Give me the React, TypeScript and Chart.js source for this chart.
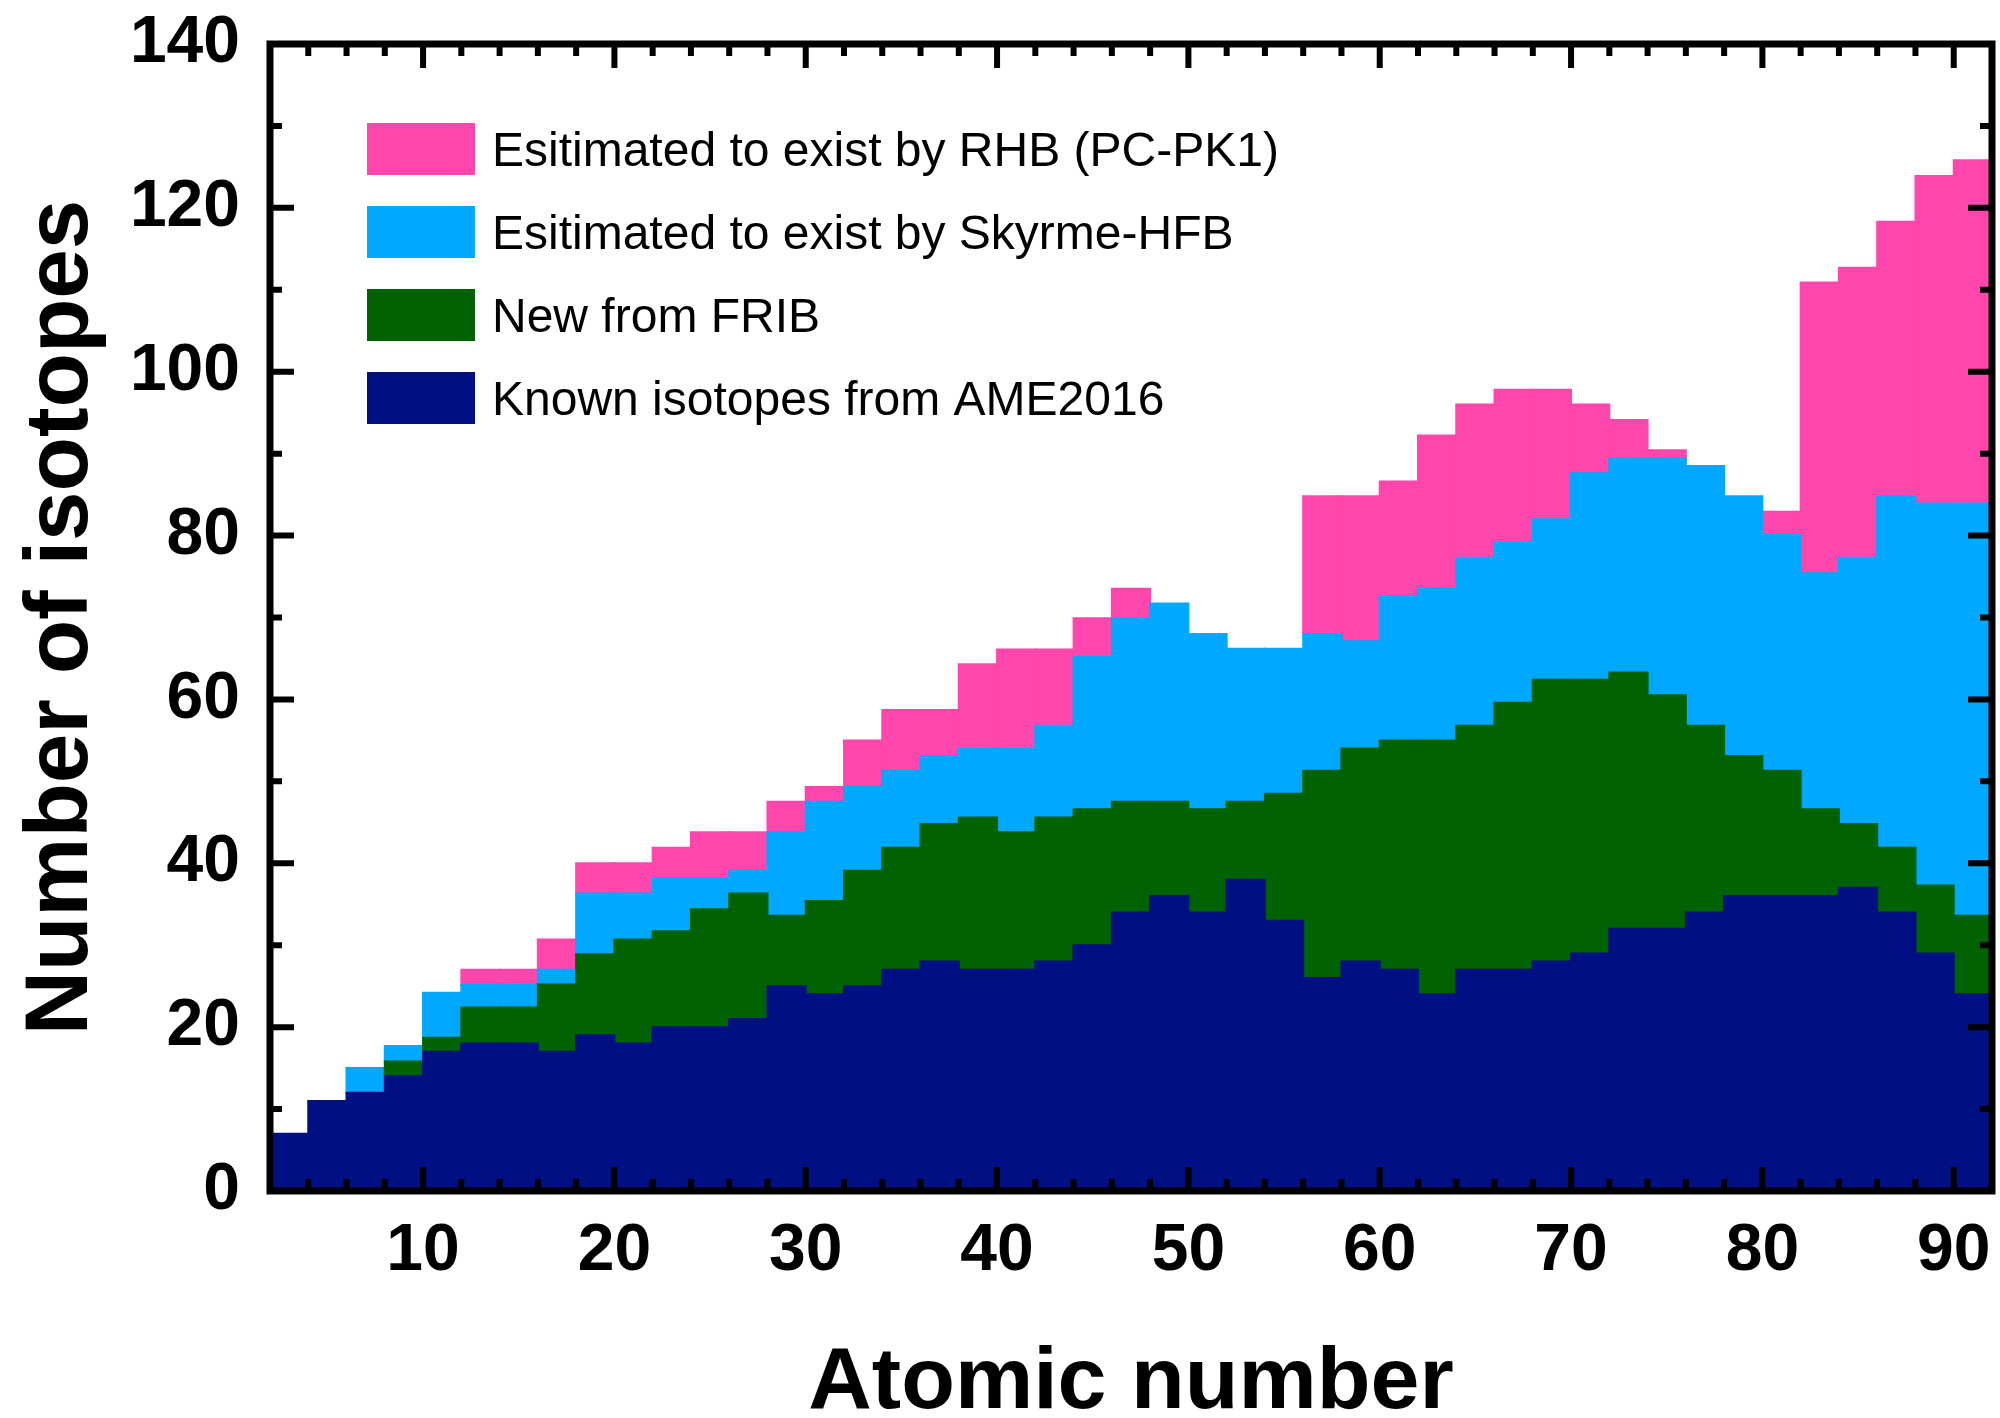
import React, { useEffect, useRef } from "react";
import { Chart, registerables } from "chart.js";

Chart.register(...registerables);

// Lower edge (atomic number Z) of each two-element bin
const binStarts = [2, 4, 6, 8, 10, 12, 14, 16, 18, 20, 22, 24, 26, 28, 30, 32, 34, 36, 38, 40, 42, 44, 46, 48, 50, 52, 54, 56, 58, 60, 62, 64, 66, 68, 70, 72, 74, 76, 78, 80, 82, 84, 86, 88, 90];

// Isotope counts per bin, one array per stacked layer (bottom to top)
const knownAME2016 = [7, 11, 12, 14, 17, 18, 18, 17, 19, 18, 20, 20, 21, 25, 24, 25, 27, 28, 27, 27, 28, 30, 34, 36, 34, 38, 33, 26, 28, 27, 24, 27, 27, 28, 29, 32, 32, 34, 36, 36, 36, 37, 34, 29, 24];
const newFromFRIB = [0, 0, 0, 1.8, 1.7, 4.4, 4.4, 8.2, 9.9, 12.7, 11.7, 14.4, 15.3, 8.6, 11.4, 14.1, 14.9, 16.8, 18.6, 16.8, 17.6, 16.6, 13.5, 11.5, 12.6, 9.5, 15.5, 25.3, 26, 28, 31, 29.8, 32.6, 34.4, 33.4, 31.3, 28.5, 22.8, 17.1, 15.3, 10.6, 7.8, 7.9, 8.3, 9.6];
const skyrmeHFB = [0, 0, 3, 1.9, 5.5, 2.8, 2.8, 1.8, 7.4, 5.6, 6.5, 3.8, 2.8, 10.2, 12.1, 10.2, 9.4, 8.3, 8.4, 10.2, 11.2, 18.6, 22.4, 24.2, 21.4, 18.7, 17.7, 16.7, 13.1, 17.6, 18.6, 20.5, 19.6, 19.6, 25.2, 26.1, 28.9, 31.7, 31.7, 28.8, 28.8, 32.5, 42.9, 46.6, 50.3];
const rhbPCPK1 = [0, 0, 0, 0, 0, 1.8, 1.8, 3.7, 3.7, 3.7, 3.7, 5.6, 4.7, 3.7, 1.8, 5.7, 7.4, 5.6, 10.3, 12.1, 9.3, 4.7, 3.6, 0, 0, 0, 0, 16.8, 17.7, 14, 18.6, 18.7, 18.6, 15.8, 8.4, 4.7, 1, 0, 0, 2.8, 35.5, 35.4, 33.5, 40, 41.9];

const seriesLabels = [
  "Known isotopes from AME2016",
  "New from FRIB",
  "Esitimated to exist by Skyrme-HFB",
  "Esitimated to exist by RHB (PC-PK1)",
];
const seriesColors = ["#000F82", "#006200", "#00A8FF", "#FF46AC"];

const xTickValues = [10, 20, 30, 40, 50, 60, 70, 80, 90];
const yTickValues = [0, 20, 40, 60, 80, 100, 120, 140];

const BIN_WIDTH = 2;
const X_MIN = 2;
const X_MAX = 92;
const Y_MIN = 0;
const Y_MAX = 140;

const W = 2000;
const H = 1418;

const FONT = '"Liberation Sans", Arial, sans-serif';

const toPoints = (values: number[]) =>
  binStarts.map((z, i) => ({ x: z + BIN_WIDTH / 2, y: values[i] > 0 ? values[i] : null }));

// Thick frame with inward ticks on all four sides
const framePlugin = {
  id: "frameTicks",
  afterDatasetsDraw(chart: any) {
    const { ctx, chartArea, scales } = chart;
    const { left, right, top, bottom } = chartArea;
    const xs = scales.x;
    const ys = scales.y;
    ctx.save();
    ctx.strokeStyle = "#000";
    ctx.lineCap = "butt";
    ctx.lineWidth = 6;
    const major = 24;
    const minor = 12;
    const drawV = (px: number, len: number) => {
      ctx.beginPath();
      ctx.moveTo(px, bottom);
      ctx.lineTo(px, bottom - len);
      ctx.moveTo(px, top);
      ctx.lineTo(px, top + len);
      ctx.stroke();
    };
    const drawH = (py: number, len: number) => {
      ctx.beginPath();
      ctx.moveTo(left, py);
      ctx.lineTo(left + len, py);
      ctx.moveTo(right, py);
      ctx.lineTo(right - len, py);
      ctx.stroke();
    };
    for (let z = X_MIN + BIN_WIDTH; z < X_MAX; z += BIN_WIDTH) {
      const isMajor = xTickValues.includes(z);
      drawV(xs.getPixelForValue(z), isMajor ? major : minor);
    }
    for (let v = Y_MIN + 10; v < Y_MAX; v += 10) {
      const isMajor = yTickValues.includes(v);
      drawH(ys.getPixelForValue(v), isMajor ? major : minor);
    }
    ctx.lineWidth = 7;
    ctx.lineJoin = "miter";
    ctx.strokeRect(left, top, right - left, bottom - top);
    ctx.restore();
  },
};

// Legend inside the plot, top entry is the top layer of the stack
const legendPlugin = {
  id: "insideLegend",
  afterDraw(chart: any) {
    const { ctx } = chart;
    const sets = chart.data.datasets;
    const boxLeft = 367;
    const boxW = 108;
    const boxH = 52;
    const firstCenter = 149;
    const rowGap = 83;
    const textLeft = 492;
    ctx.save();
    ctx.font = `48px ${FONT}`;
    ctx.textAlign = "left";
    ctx.textBaseline = "alphabetic";
    for (let k = 0; k < sets.length; k++) {
      const ds = sets[sets.length - 1 - k];
      const cy = firstCenter + k * rowGap;
      ctx.fillStyle = ds.backgroundColor;
      ctx.fillRect(boxLeft, cy - boxH / 2, boxW, boxH);
      ctx.fillStyle = "#000";
      ctx.fillText(ds.label, textLeft, cy + 17);
    }
    ctx.restore();
  },
};

export default function App() {
  const canvasRef = useRef<HTMLCanvasElement | null>(null);

  useEffect(() => {
    if (!canvasRef.current) return;
    const layers = [knownAME2016, newFromFRIB, skyrmeHFB, rhbPCPK1];
    const chart = new Chart(canvasRef.current, {
      type: "bar",
      data: {
        datasets: layers.map((values, i) => ({
          label: seriesLabels[i],
          data: toPoints(values),
          backgroundColor: seriesColors[i],
          borderWidth: 0,
          inflateAmount: 1,
          barPercentage: 1,
          categoryPercentage: 1,
        })),
      },
      options: {
        responsive: false,
        animation: false,
        devicePixelRatio: 1,
        layout: { padding: { top: 44, right: 8, bottom: 0, left: 0 } },
        plugins: {
          legend: { display: false },
          tooltip: { enabled: false },
        },
        scales: {
          x: {
            type: "linear",
            min: X_MIN,
            max: X_MAX,
            offset: false,
            stacked: true,
            grid: { display: false, drawTicks: false },
            border: { display: false },
            afterBuildTicks: (scale: any) => {
              scale.ticks = xTickValues.map((v) => ({ value: v }));
            },
            afterFit: (scale: any) => {
              scale.height = 227;
              scale.paddingLeft = 0;
              scale.paddingRight = 0;
            },
            ticks: {
              color: "#000",
              padding: 21,
              maxRotation: 0,
              autoSkip: false,
              font: { family: FONT, size: 66, weight: "bold" },
            },
            title: {
              display: true,
              text: "Atomic number",
              color: "#000",
              padding: { top: 0, bottom: 0 },
              font: { family: FONT, size: 88, weight: "bold", lineHeight: 0.78 },
            },
          },
          y: {
            type: "linear",
            min: Y_MIN,
            max: Y_MAX,
            stacked: true,
            grid: { display: false, drawTicks: false },
            border: { display: false },
            afterBuildTicks: (scale: any) => {
              scale.ticks = yTickValues.map((v) => ({ value: v }));
            },
            afterFit: (scale: any) => {
              scale.width = 270;
              scale.paddingTop = 0;
              scale.paddingBottom = 0;
            },
            ticks: {
              color: "#000",
              padding: 30,
              autoSkip: false,
              font: { family: FONT, size: 66, weight: "bold" },
            },
            title: {
              display: true,
              text: "Number of isotopes",
              color: "#000",
              padding: { top: 9, bottom: 0 },
              font: { family: FONT, size: 89, weight: "bold", lineHeight: 1.2 },
            },
          },
        },
      },
      plugins: [framePlugin, legendPlugin],
    } as any);
    return () => chart.destroy();
  }, []);

  return (
    <div style={{ position: "fixed", left: 0, top: 0, width: W, height: H, background: "#fff" }}>
      <canvas ref={canvasRef} width={W} height={H} style={{ width: W, height: H, display: "block" }} />
    </div>
  );
}
